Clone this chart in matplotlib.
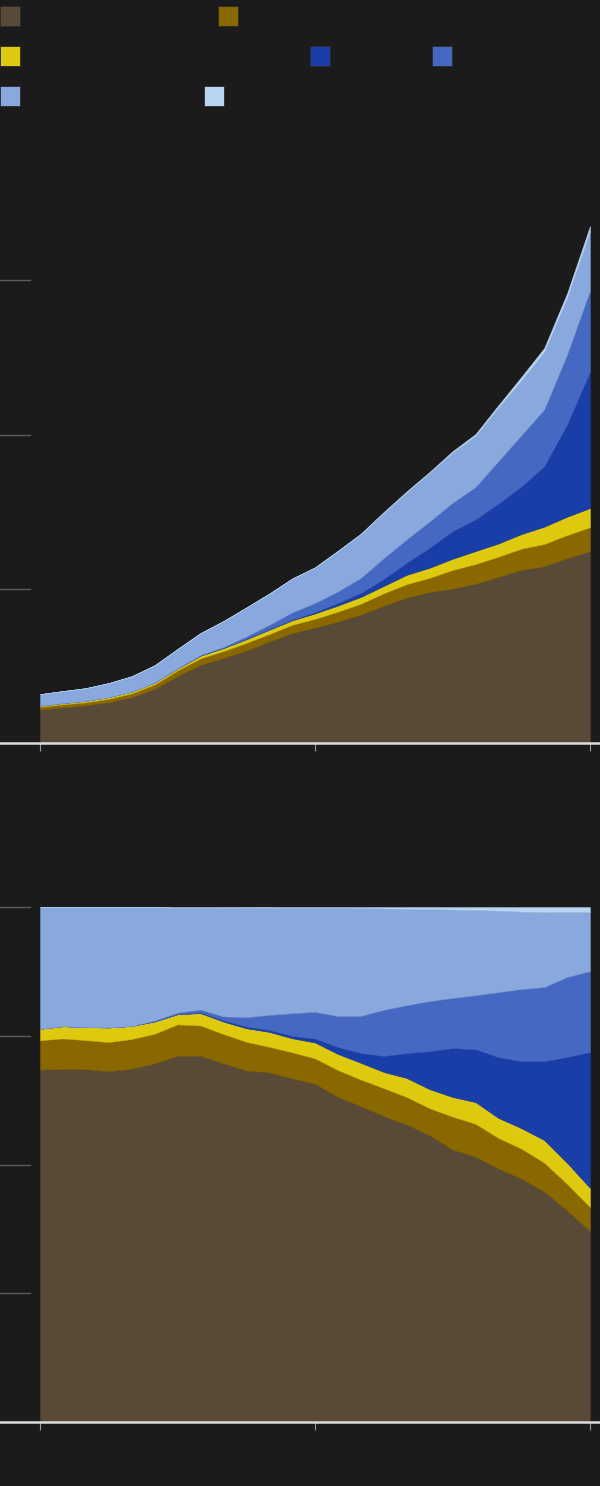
import matplotlib
matplotlib.use("Agg")
import matplotlib.pyplot as plt
import matplotlib.transforms as mtransforms
from matplotlib.patches import Rectangle
from matplotlib.lines import Line2D
import numpy as np

years = list(range(2000, 2025))

brown = [21.7, 23.1, 24.4, 26.5, 29.7, 35.1, 43.4, 50.7, 55.1, 60.0, 65.8, 71.2, 74.9,
         78.7, 83.3, 89.0, 94.3, 97.9, 100.1, 103.2, 107.8, 112.2, 114.6, 119.8, 124.3]
olive = [1.8, 2.0, 2.0, 2.2, 2.5, 2.9, 3.7, 4.2, 4.5, 4.9, 4.8, 5.4, 5.6,
         6.5, 7.0, 8.1, 8.7, 9.2, 12.1, 12.8, 13.0, 13.8, 14.4, 15.0, 15.6]
yellow = [0.7, 0.8, 0.9, 1.1, 1.1, 1.2, 1.2, 1.7, 1.9, 2.3, 2.8, 2.9, 3.5,
          3.9, 4.4, 4.7, 6.0, 6.5, 7.2, 8.4, 8.5, 9.4, 11.2, 11.9, 12.4]
dark_blue = [0.0, 0.0, 0.0, 0.0, 0.0, 0.0, 0.0, 0.1, 0.2, 0.3, 0.4, 0.5, 0.9,
             1.7, 2.6, 4.7, 7.9, 13.0, 18.0, 20.6, 25.9, 30.9, 39.3, 60.0, 88.5]
mid_blue = [0.0, 0.0, 0.0, 0.0, 0.0, 0.1, 0.2, 0.4, 0.6, 1.6, 2.8, 4.7, 5.9,
            7.5, 9.8, 13.4, 15.2, 17.1, 18.4, 21.0, 27.6, 33.2, 36.8, 45.3, 52.7]
light_blue = [7.5, 7.8, 8.3, 9.1, 10.0, 11.1, 12.4, 14.1, 16.7, 18.7, 20.2, 21.8, 23.0,
              26.2, 28.4, 29.5, 30.5, 31.4, 32.5, 33.1, 34.7, 35.7, 37.3, 36.8, 38.4]
pale_blue = [0.0, 0.0, 0.0, 0.0, 0.0, 0.0, 0.1, 0.1, 0.1, 0.1, 0.1, 0.2, 0.2,
             0.2, 0.3, 0.4, 0.6, 0.7, 0.9, 1.2, 1.5, 2.1, 2.5, 2.8, 3.3]

series = [brown, olive, yellow, dark_blue, mid_blue, light_blue, pale_blue]
colors = ["#594a37", "#8a6800", "#ddc90d", "#1a3ea8", "#4568c3", "#88a8de", "#b9d5f2"]

abs_ticks = [0, 100, 200, 300]
pct_ticks = [0, 25, 50, 75, 100]
year_ticks = [2000, 2012, 2024]

BG = "#1b1b1b"
W, H = 600, 1486
fig = plt.figure(figsize=(W / 100, H / 100), dpi=100, facecolor=BG)


def fx(px):
    return px / W


def fy(py):
    return 1 - py / H


# legend swatches: (left px, top px) for each series
swatch_pos = [(0, 6), (218, 6), (0, 46), (310, 46), (432, 46), (0, 86), (204, 86)]
for (lx, ty), c in zip(swatch_pos, colors):
    fig.patches.append(Rectangle((fx(lx), fy(ty + 20)), fx(20), 20 / H,
                                 transform=fig.transFigure, facecolor=c,
                                 edgecolor="#2a2a2a", linewidth=0.6))


def make_axes(top_px, bottom_px):
    ax = fig.add_axes([fx(40), fy(bottom_px), fx(550), (bottom_px - top_px) / H])
    ax.set_facecolor("none")
    for s in ax.spines.values():
        s.set_visible(False)
    ax.set_xlim(years[0], years[-1])
    ax.set_xticks(year_ticks)
    ax.tick_params(axis="x", length=6, width=0.8, color="#9a9a9a",
                   direction="out", pad=0, labelbottom=False)
    ax.set_yticks([])
    return ax


def decorate(ax, yticks):
    trans = mtransforms.blended_transform_factory(fig.transFigure, ax.transData)
    for t in yticks[1:]:
        fig.lines.append(Line2D([0, fx(30)], [t, t], transform=trans,
                                color="#5c5c5c", linewidth=1.0))
    fig.lines.append(Line2D([0, 1], [0, 0], transform=trans,
                            color="#dcdcdc", linewidth=1.8, zorder=5))


# absolute stacked areas
ax1 = make_axes(126, 743)
ax1.set_ylim(0, 400)
ax1.stackplot(years, *series, colors=colors, linewidth=0.3, edgecolor="face")
decorate(ax1, abs_ticks)

# share of total (percent)
vals = np.array(series, dtype=float)
shares = vals / vals.sum(axis=0) * 100
ax2 = make_axes(907, 1422)
ax2.set_ylim(0, 100)
ax2.stackplot(years, *shares, colors=colors, linewidth=0.3, edgecolor="face")
decorate(ax2, pct_ticks)

fig.savefig("out.png", dpi=100, facecolor=BG)
